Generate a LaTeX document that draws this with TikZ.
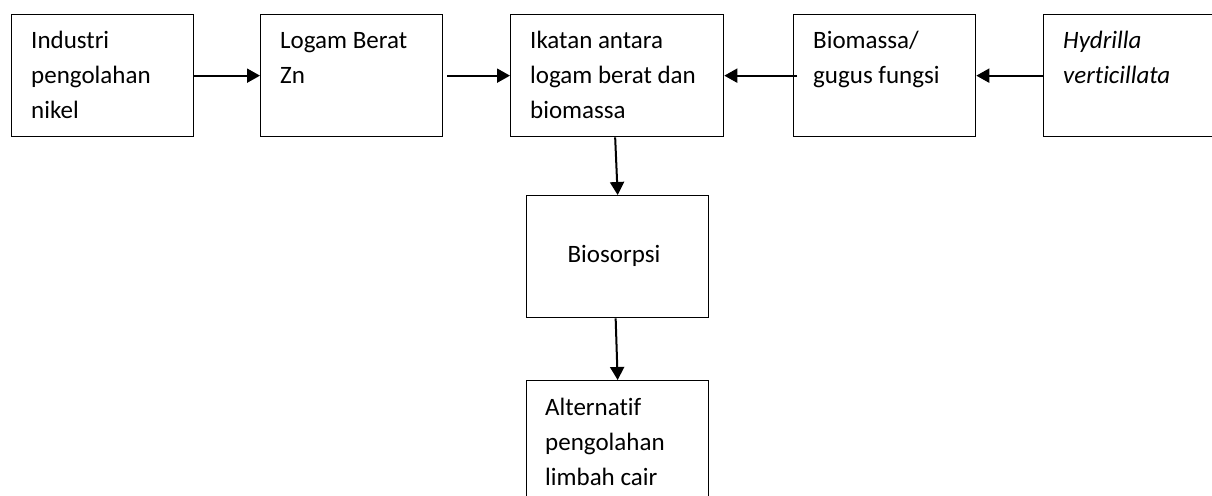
\documentclass[tikz,border=0pt]{standalone}
\usepackage{fontspec}
\setmainfont[Ligatures=NoCommon]{Carlito}
\usetikzlibrary{arrows.meta}
\begin{document}
\begin{tikzpicture}[x=1pt,y=-1pt,
  box/.style={draw=black, line width=1.3pt, rectangle, inner sep=0pt, anchor=north west},
  txt/.style={anchor=base west, align=left, inner sep=0pt, font=\fontsize{25}{35}\selectfont},
  conn/.style={line width=2pt, -{Triangle[length=13pt,width=14pt]}}]
\useasboundingbox (0,0) rectangle (1212,495);
\clip (0,0) rectangle (1212,495);
\node[box, minimum width=182pt, minimum height=122pt] (b1) at (11,14) {};
\node[box, minimum width=182pt, minimum height=122pt] (b2) at (260,14) {};
\node[box, minimum width=213pt, minimum height=122pt] (b3) at (510,14) {};
\node[box, minimum width=182pt, minimum height=122pt] (b4) at (793,14) {};
\node[box, minimum width=182pt, minimum height=122pt] (b5) at (1043,14) {};
\node[box, minimum width=182pt, minimum height=122pt] (b6) at (526,195) {};
\node[box, minimum width=182pt, minimum height=122pt] (b7) at (526,380) {};
\node[txt] (t1) at (31,118) {Industri\\pengolahan\\nikel};
\node[txt] (t2) at (280,83) {Logam Berat\\Zn};
\node[txt] (t3) at (530,118) {Ikatan antara\\logam berat dan\\biomassa};
\node[txt] (t4) at (813,83) {Biomassa/\\gugus fungsi};
\node[txt] (t5) at (1063,83) {\itshape Hydrilla\\\itshape verticillata};
\node[txt, anchor=base] (t6) at (614,262) {Biosorpsi};
\node[txt] (t7) at (545,485) {Alternatif\\pengolahan\\limbah cair};
\draw[conn] (b1.east) -- (b2.west);
\draw[conn] ([xshift=4pt]b2.east) -- (b3.west);
\draw[conn] ([xshift=4pt]b4.west) -- (b3.east);
\draw[conn] (b5.west) -- (b4.east);
\draw[conn] ([xshift=-2pt]b3.south) -- (b6.north);
\draw[conn] ([xshift=-2pt]b6.south) -- (b7.north);
\end{tikzpicture}
\end{document}
